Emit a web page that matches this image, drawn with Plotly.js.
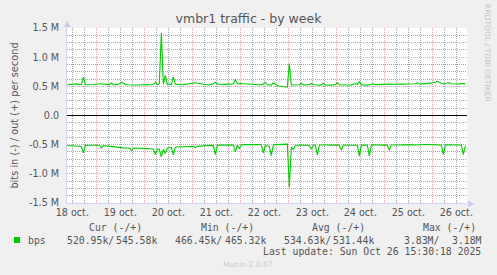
<!DOCTYPE html>
<html>
<head>
<meta charset="utf-8">
<script src="https://cdn.plot.ly/plotly-3.0.1.min.js"></script>
<style>
html,body{margin:0;padding:0;background:#F0F0F0;}
#chart{width:497px;height:275px;}
</style>
</head>
<body>
<div id="chart"></div>
<script>
// ---- data (hourly samples, values in k bits/s) ----
const seriesStart = '2025-10-18T09:30:00Z';
const stepHours = 1;
const outValues = [
528,532,530,538,545,542,535,530,657,530,528,526,530,532,535,542,545,544,540,535,
528,525,556,526,530,534,540,572,545,534,528,525,522,520,520,518,522,526,530,538,
532,528,526,530,571,528,540,1418,535,686,530,540,532,663,538,532,530,528,530,535,
540,548,552,555,560,552,545,538,532,530,528,526,530,540,571,540,535,532,530,534,
538,540,542,540,617,545,548,546,542,538,532,528,526,525,522,524,528,530,540,571,
530,522,520,560,530,515,505,500,495,490,485,891,525,522,520,522,528,549,528,525,
522,530,549,530,526,520,520,525,555,525,520,522,520,525,530,560,528,522,520,520,
518,522,525,540,549,530,577,525,520,518,520,522,530,543,530,532,535,530,528,530,
532,535,538,535,540,542,540,538,540,542,545,540,538,542,545,560,540,538,542,545,
548,545,550,555,565,589,565,550,545,548,545,560,545,540,538,540,542,545,540,546
];
const inValues = [
-515,-518,-520,-516,-520,-525,-528,-530,-640,-515,-510,-508,-510,-512,-510,-508,-510,-554,-515,-520,
-525,-530,-535,-540,-545,-548,-550,-552,-555,-558,-560,-558,-600,-560,-558,-562,-565,-568,-570,-568,
-565,-570,-572,-575,-669,-575,-580,-708,-580,-652,-560,-550,-548,-674,-545,-540,-538,-535,-532,-530,
-532,-530,-528,-530,-554,-530,-525,-522,-520,-518,-515,-512,-510,-512,-669,-510,-508,-506,-505,-505,
-506,-508,-506,-505,-623,-510,-566,-505,-500,-498,-496,-495,-496,-498,-500,-498,-496,-505,-640,-515,
-520,-525,-686,-505,-500,-498,-496,-495,-494,-492,-490,-1229,-540,-583,-520,-510,-505,-506,-508,-510,
-512,-515,-577,-510,-508,-680,-505,-502,-500,-502,-505,-508,-506,-505,-504,-502,-505,-594,-505,-508,
-510,-512,-510,-508,-506,-510,-697,-510,-508,-506,-505,-697,-505,-502,-500,-502,-505,-508,-506,-504,
-505,-594,-505,-506,-508,-506,-505,-504,-502,-500,-498,-500,-502,-504,-505,-506,-505,-503,-500,-498,
-496,-495,-498,-500,-502,-504,-505,-506,-669,-505,-504,-502,-500,-502,-504,-505,-506,-508,-669,-521
];
const xRange = ['2025-10-18 09:20', '2025-10-26 17:20'];
const dayDates = ['2025-10-18','2025-10-19','2025-10-20','2025-10-21','2025-10-22','2025-10-23','2025-10-24','2025-10-25','2025-10-26'];
const dayLabels = ['18 oct.','19 oct.','20 oct.','21 oct.','22 oct.','23 oct.','24 oct.','25 oct.','26 oct.'];
const yTickVals = [-1500000,-1000000,-500000,0,500000,1000000,1500000];
const yTickText = ['-1.5 M','-1.0 M','-0.5 M','0.0','0.5 M','1.0 M','1.5 M'];
const legendHeaders = ['Cur (-/+)','Min (-/+)','Avg (-/+)','Max (-/+)'];
const legendIn = ['520.95k/','466.45k/','534.63k/','3.83M/'];
const legendOut = ['545.58k','465.32k','531.44k','3.18M'];
const seriesName = 'bps';
const lastUpdate = 'Last update: Sun Oct 26 15:30:18 2025';

// ---- build ----
const startMs = Date.parse(seriesStart);
function fmt(ms){ return new Date(ms).toISOString().slice(0,16).replace('T',' '); }
const times = outValues.map((_, i) => fmt(startMs + i*stepHours*3600000));
const green = '#00CC00';

// grid positions: gray every 6h (06,12,18 with labels at noon), red at midnight
const rMin = Date.parse(xRange[0].replace(' ','T')+':00Z'), rMax = Date.parse(xRange[1].replace(' ','T')+':00Z');
const xMinorVals = [], xMinorText = [], xMajorVals = [];
dayDates.forEach((d, i) => {
  ['00','06','12','18'].forEach(h => {
    const s = d + ' ' + h + ':00';
    const ms = Date.parse(d + 'T' + h + ':00:00Z');
    if (ms < rMin || ms > rMax) return;
    if (h === '00') { xMajorVals.push(s); }
    else { xMinorVals.push(s); xMinorText.push(h === '12' ? dayLabels[i] : ''); }
  });
});
const yMinorVals = [];
for (let k = -11; k <= 11; k++) if (k % 4 !== 0) yMinorVals.push(k*125000);

const traces = [
  {x: times, y: outValues.map(v => v*1000), type:'scatter', mode:'lines',
   line:{color:green, width:1.1}, hoverinfo:'skip', showlegend:false},
  {x: times, y: inValues.map(v => v*1000), type:'scatter', mode:'lines',
   line:{color:green, width:1.1}, hoverinfo:'skip', showlegend:false},
  {x: [], y: [], type:'scatter', mode:'lines', xaxis:'x2', yaxis:'y2', hoverinfo:'skip', showlegend:false}
];

const L = 67, R = 467, T = 28, B = 203;
const px = x => (x - L)/(R - L);
const py = y => (B - y)/(B - T);
const txt = '#555555';
const sans = 'DejaVu Sans, sans-serif';
const mono = 'DejaVu Sans Mono, monospace';
const redGrid = '#EE9A9A', grayGrid = '#A6A6A6', dots = '1px,1px';

const ann = [];
function addText(text, x, y, xanchor, size, color, family, angle){
  ann.push({text:text, xref:'paper', yref:'paper', x:px(x), y:py(y),
    xanchor:xanchor, yanchor:'middle', showarrow:false, borderpad:0,
    textangle: angle||0, font:{family:family||mono, size:size||9.8, color:color||txt}});
}
// axis arrows
addText('▲', 67, 24, 'center', 8, '#c5cbf0', sans);
addText('▶', 471, 203, 'center', 8, '#c5cbf0', sans);
// watermark
addText('RRDTOOL / TOBI OETIKER', 488, 53, 'center', 7.6, '#c4c4c4', sans, 90);
// legend
const headerCenters = [115.5, 227, 338.5, 449.5];
const inStarts = [66, 174, 283, 403];
const outEnds = [157.5, 267, 375, 483];
legendHeaders.forEach((h,i) => addText(h, headerCenters[i], 227.5, 'center'));
legendIn.forEach((v,i) => addText(v, inStarts[i], 240, 'left'));
legendOut.forEach((v,i) => addText(v, outEnds[i], 240, 'right'));
addText(seriesName, 27, 240, 'left');
addText(lastUpdate, 482, 251.5, 'right');
addText('Munin 2.0.67', 248, 264, 'center', 7.6, '#cccccc', sans);

const layout = {
  width:497, height:275,
  margin:{l:L, r:497-R, t:T, b:275-B, pad:0},
  paper_bgcolor:'#F0F0F0', plot_bgcolor:'#FFFFFF',
  hovermode:false,
  title:{text:'vmbr1 traffic - by week', x:0.5, xanchor:'center', y:1-19/275, yanchor:'middle',
         font:{family:sans, size:12.5, color:'#555555'}},
  xaxis:{type:'date', range:xRange, tickmode:'array', tickvals:xMinorVals, ticktext:xMinorText,
         ticks:'', tickfont:{family:sans, size:9.6, color:txt},
         showgrid:true, gridcolor:grayGrid, griddash:dots, gridwidth:1,
         showline:true, linecolor:'#cfd3f0', linewidth:1, zeroline:false, fixedrange:true},
  xaxis2:{type:'date', range:xRange, overlaying:'x', anchor:'y', side:'bottom',
         tickmode:'array', tickvals:xMajorVals, showticklabels:false, ticks:'',
         showgrid:true, gridcolor:redGrid, griddash:dots, gridwidth:1,
         showline:false, zeroline:false, fixedrange:true},
  yaxis:{range:[-1500000,1500000], tickmode:'array', tickvals:yTickVals, ticktext:yTickText,
         ticks:'', ticklabelstandoff:5,
         tickfont:{family:sans, size:9.6, color:txt},
         showgrid:true, gridcolor:redGrid, griddash:dots, gridwidth:1,
         zeroline:true, zerolinecolor:'#000000', zerolinewidth:1.5,
         showline:true, linecolor:'#cfd3f0', linewidth:1,
         title:{text:'bits in (-) / out (+) per second', standoff:8, font:{family:sans, size:9.8, color:txt}},
         fixedrange:true},
  yaxis2:{range:[-1500000,1500000], overlaying:'y', anchor:'x', side:'left',
         tickmode:'array', tickvals:yMinorVals, showticklabels:false, ticks:'',
         showgrid:true, gridcolor:grayGrid, griddash:dots, gridwidth:1,
         zeroline:false, showline:false, fixedrange:true},
  shapes:[{type:'rect', xref:'paper', yref:'paper', x0:px(14), x1:px(20), y0:py(243), y1:py(237),
           fillcolor:green, line:{width:0}}],
  annotations: ann
};

Plotly.newPlot('chart', traces, layout, {displayModeBar:false, staticPlot:true});
</script>
</body>
</html>
